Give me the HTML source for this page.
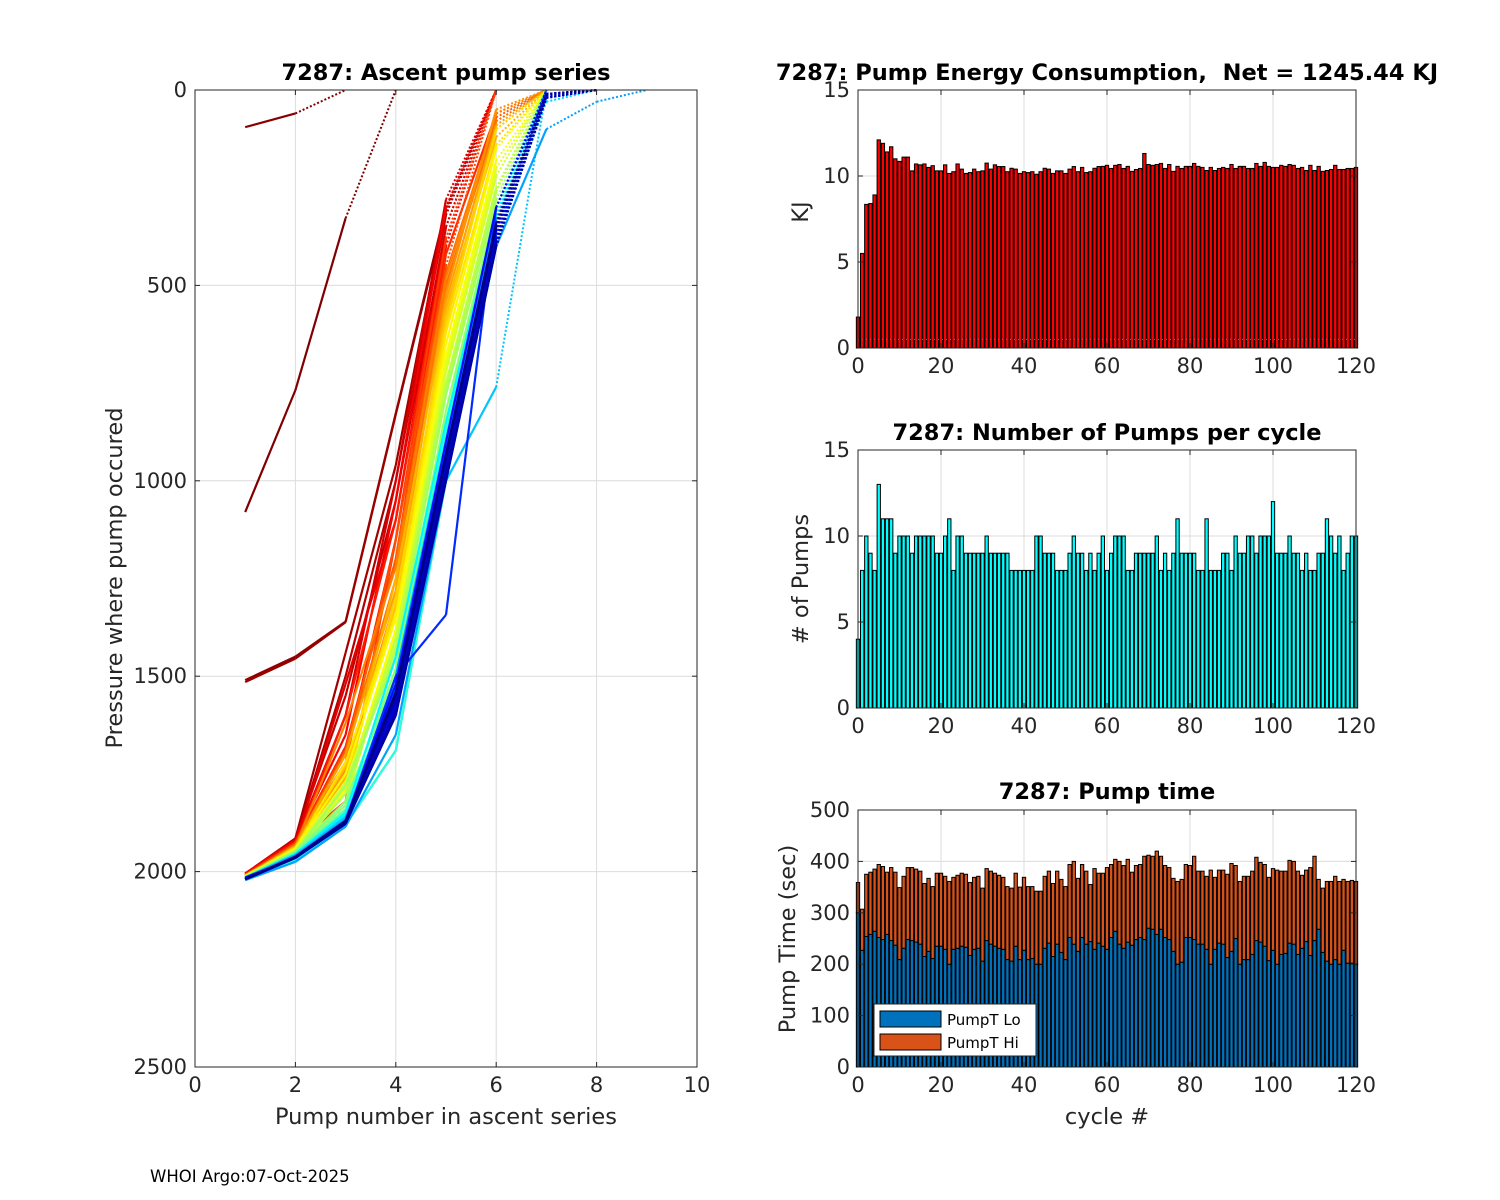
<!DOCTYPE html>
<html><head><meta charset="utf-8"><style>
html,body{margin:0;padding:0;background:#fff;}
svg{display:block;font-family:"DejaVu Sans","Liberation Sans",sans-serif;}
</style></head><body>
<svg id="fig" width="1500" height="1200" viewBox="0 0 1500 1200" xmlns="http://www.w3.org/2000/svg">
<rect width="1500" height="1200" fill="#fff"/>
<text x="150" y="1182" font-size="16.5" fill="#000">WHOI Argo:07-Oct-2025</text>
</svg>
<script>
// ---------- DATA ----------
const energyKJ = [1.8,5.5,8.35,8.4,8.9,12.1,11.9,11.4,11.7,11.0,10.85,11.1,11.1,10.3,10.7,10.65,10.7,10.5,10.6,10.3,10.3,10.65,10.15,10.25,10.7,10.4,10.15,10.2,10.4,10.25,10.3,10.75,10.4,10.65,10.55,10.55,10.25,10.45,10.4,10.15,10.25,10.2,10.25,10.1,10.25,10.45,10.4,10.15,10.3,10.3,10.15,10.4,10.55,10.25,10.5,10.2,10.25,10.45,10.55,10.56,10.62,10.44,10.62,10.67,10.44,10.56,10.27,10.38,10.44,11.31,10.67,10.62,10.67,10.73,10.44,10.67,10.27,10.56,10.44,10.56,10.56,10.73,10.56,10.5,10.32,10.5,10.32,10.44,10.5,10.44,10.67,10.44,10.56,10.56,10.44,10.44,10.73,10.56,10.79,10.56,10.5,10.5,10.62,10.56,10.67,10.62,10.44,10.5,10.32,10.62,10.32,10.56,10.27,10.32,10.38,10.62,10.38,10.38,10.44,10.44,10.5];
const pumpCount = [4,8,10,9,8,13,11,11,11,9,10,10,10,9,10,10,10,10,10,9,9,10,11,8,10,10,9,9,9,9,9,10,9,9,9,9,9,8,8,8,8,8,8,10,10,9,9,9,8,8,8,9,10,9,9,8,9,8,9,10,8,9,10,10,10,8,8,9,9,9,9,9,10,8,9,8,9,11,9,9,9,9,8,8,11,8,8,8,9,9,8,10,9,9,10,10,9,10,10,10,12,9,9,9,10,9,9,8,9,8,8,9,9,11,10,9,10,8,9,10,10];
const pumpTotal = [359,307,375,379,385,394,390,379,388,379,349,371,388,388,385,381,357,367,351,377,377,371,361,369,373,377,375,359,369,371,348,386,381,377,373,369,351,348,377,350,369,351,351,342,342,371,381,357,381,365,351,394,400,367,394,381,355,386,377,377,388,394,404,400,392,404,379,392,394,410,412,410,420,410,392,388,367,361,365,394,392,410,381,381,371,383,369,383,383,375,396,392,361,371,371,381,408,398,394,369,386,383,381,381,402,400,381,373,383,388,410,365,348,361,361,371,361,365,361,363,361];
const pumpLo = [300,227,254,258,264,252,248,258,246,237,209,231,248,246,243,239,215,225,211,235,235,229,200,229,231,235,233,217,229,231,206,246,239,235,231,229,209,206,235,209,227,209,211,200,200,231,241,215,239,223,209,252,239,225,252,239,244,229,241,235,229,252,264,239,231,243,237,248,252,248,270,268,258,268,252,248,225,200,204,252,252,248,239,239,229,200,229,241,239,213,225,250,200,209,209,219,246,243,235,207,227,200,219,221,241,239,219,231,244,217,246,268,223,206,200,209,200,227,202,202,200];
const energyTicks = [0,5,10,15];
const pumpTicks = [0,5,10,15];
const timeTicks = [0,100,200,300,400,500];
const cycleTicks = [0,20,40,60,80,100,120];
const ascXTicks = [0,2,4,6,8,10];
const ascYTicks = [0,500,1000,1500,2000,2500];
// ascent profiles: cycle index (for colour) and pressure at pump 1..n
const profCycle = [0,1,2,3,4,6,8,10,12,14,16,18,20,22,24,26,28,30,32,34,36,38,40,42,44,46,48,50,52,54,56,58,60,62,82,66,68,70,72,74,76,78,80,82,84,86,88,90,92,94,96,98,100,102,104,106,108,110,112,114,116,118,120];
const profP = [
[1080,768,328,0],
[95,60,0],
[1510,1450,1360,827,302,0],
[1515,1455,1362,830,310,0],
[2005,1915,1440,960,300,0],
[2010,1920,1500,1000,320,0],
[2008,1915,1550,1050,350,0],
[2005,1920,1600,1000,280,0],
[2010,1925,1520,1100,350,0],
[2005,1920,1650,1050,300,0],
[2010,1925,1700,1150,400,0],
[2010,1930,1600,1100,380,0],
[2008,1925,1680,1200,420,60,0],
[2010,1928,1820,1150,380,0],
[2010,1930,1720,1150,450,0],
[2012,1932,1690,1200,470,70,0],
[2012,1930,1700,1250,500,80,0],
[2010,1935,1620,1220,480,60,0],
[2010,1935,1740,1300,520,50,0],
[2012,1935,1700,1280,540,90,0],
[2012,1935,1760,1250,560,120,0],
[2012,1938,1730,1320,580,100,0],
[2010,1940,1780,1300,600,100,0],
[2012,1940,1720,1340,620,140,0],
[2012,1940,1750,1350,650,150,0],
[2014,1942,1790,1380,680,180,0],
[2015,1945,1800,1400,700,200,0],
[2014,1945,1770,1420,720,220,0],
[2012,1945,1820,1400,750,250,0],
[2015,1948,1800,1430,760,260,0],
[2015,1950,1780,1450,780,280,0],
[2015,1950,1830,1480,820,300,0],
[2015,1950,1820,1500,850,300,0],
[2016,1952,1840,1520,860,310,0],
[2020,1970,1880,1690,1000,760,0],
[2016,1954,1845,1540,880,330,0],
[2015,1955,1850,1550,900,350,0],
[2020,1970,1880,1690,1000,400,20,0],
[2018,1958,1860,1500,880,330,20,0],
[2016,1956,1855,1520,890,340,0],
[2015,1955,1850,1450,850,320,0],
[2018,1958,1858,1580,930,360,20,0],
[2018,1960,1860,1600,950,380,30,0],
[2016,1958,1862,1570,940,360,0],
[2015,1958,1865,1550,920,350,0],
[2022,1975,1885,1650,1000,400,100,30,0],
[2018,1960,1870,1500,900,330,20,0],
[2018,1960,1868,1530,920,340,10,0],
[2018,1962,1870,1550,950,350,10,0],
[2019,1963,1872,1570,970,370,20,0],
[2020,1965,1875,1600,1000,400,20,0],
[2019,1964,1873,1580,980,380,10,0],
[2015,1965,1870,1500,1343,300,0],
[2019,1963,1871,1560,960,360,15,0],
[2018,1962,1870,1520,900,300,10,0],
[2019,1963,1872,1590,990,390,20,0],
[2020,1965,1875,1580,980,380,0],
[2019,1964,1874,1570,960,360,10,0],
[2018,1962,1872,1560,950,350,15,0],
[2019,1964,1876,1590,980,390,20,0],
[2020,1965,1878,1600,1000,400,20,0],
[2019,1963,1872,1550,940,350,10,0],
[2018,1962,1870,1540,930,340,10,0]
];

// ---------- HELPERS ----------
const svg = document.getElementById('fig');
const NS = 'http://www.w3.org/2000/svg';
function mk(tag, attrs, parent){ const e=document.createElementNS(NS,tag); for(const k in attrs) e.setAttribute(k,attrs[k]); (parent||svg).appendChild(e); return e; }
const AX = '#262626', GRID = '#dcdcdc';
const TICK_FS = 21, LABEL_FS = 22.5, TITLE_FS = 22.5;

function jet(t){
  const r=Math.max(0,Math.min(1,Math.min(4*t-1.5,-4*t+4.5)));
  const g=Math.max(0,Math.min(1,Math.min(4*t-0.5,-4*t+3.5)));
  const b=Math.max(0,Math.min(1,Math.min(4*t+0.5,-4*t+2.5)));
  return 'rgb('+Math.round(r*255)+','+Math.round(g*255)+','+Math.round(b*255)+')';
}

function axesFrame(name, L, T, R, B, xt, yt, sx, sy, g){
  for(const v of xt){ const x=sx(v);
    const gl=mk('line',{x1:x,y1:T,x2:x,y2:B,stroke:GRID,'stroke-width':1},g);
     
  }
  for(const v of yt){ const y=sy(v);
    const gl=mk('line',{x1:L,y1:y,x2:R,y2:y,stroke:GRID,'stroke-width':1},g);
     
  }
}
function axesBox(name, L, T, R, B, xt, yt, sx, sy, g){
  const box=mk('rect',{x:L,y:T,width:R-L,height:B-T,fill:'none',stroke:AX,'stroke-width':1},g);
   
  for(const v of xt){ const x=sx(v);
    mk('line',{x1:x,y1:B,x2:x,y2:B-5,stroke:AX},g); mk('line',{x1:x,y1:T,x2:x,y2:T+5,stroke:AX},g);
    const t=mk('text',{x:x,y:B+25,'font-size':TICK_FS,'text-anchor':'middle',fill:AX},g); t.textContent=v;
     
  }
  for(const v of yt){ const y=sy(v);
    mk('line',{x1:L,y1:y,x2:L+5,y2:y,stroke:AX},g); mk('line',{x1:R,y1:y,x2:R-5,y2:y,stroke:AX},g);
    const t=mk('text',{x:L-8,y:y+7,'font-size':TICK_FS,'text-anchor':'end',fill:AX},g); t.textContent=v;
     
  }
}
function label(txt, x, y, opts, name, g){
  const t=mk('text',Object.assign({x:x,y:y,'font-size':LABEL_FS,'text-anchor':'middle',fill:AX},opts||{}),g);
  t.textContent=txt;   return t;
}

// ---------- ASCENT PANEL ----------
(function(){
  const g=mk('g',{});  
  const L=195,R=697,T=90,B=1067;
  const sx=v=>L+(v-0)/(10-0)*(R-L), sy=v=>T+(v-0)/(2500-0)*(B-T);
  axesFrame('ascent',L,T,R,B,ascXTicks,ascYTicks,sx,sy,g);
  const lg=mk('g',{},g);  
  profP.forEach((p,i)=>{
    const col=jet(1-profCycle[i]/120);
    for(let k=0;k<p.length-1;k++){
      const dotted = p[k+1] < 40;
      const ln=mk('line',{x1:sx(k+1),y1:sy(p[k]),x2:sx(k+2),y2:sy(p[k+1]),stroke:col,'stroke-width':dotted?2:2.2,'stroke-dasharray':dotted?'2 2':'none'},lg);
      
      
    }
  });
  axesBox('ascent',L,T,R,B,ascXTicks,ascYTicks,sx,sy,g);
  label('7287: Ascent pump series',446,80,{'font-weight':'bold','font-size':TITLE_FS,fill:'#000'},'ascent-title',g);
  label('Pump number in ascent series',446,1124,{},'ascent-x-axis-title',g);
  label('Pressure where pump occured',122,578,{transform:'rotate(-90 122 578)'},'ascent-y-axis-title',g);
})();

// ---------- BAR PANELS ----------
const cL=858, cR=1356;
const sxc=v=>cL+(v-0)/(120-0)*(cR-cL);
const bw=0.8*(cR-cL)/120;

(function(){
  const g=mk('g',{});  
  const T=90,B=348; const sy=v=>B-(v/15)*(B-T);
  axesFrame('energy',cL,T,cR,B,cycleTicks,energyTicks,sxc,sy,g);
  energyKJ.forEach((v,i)=>{
    const r=mk('rect',{x:sxc(i)-bw/2,y:sy(v),width:bw,height:sy(0)-sy(v),fill:'#ff0000',stroke:'#000','stroke-width':1},g);
     
  });
  const dl=mk('line',{x1:cL,y1:sy(0.5),x2:cR,y2:sy(0.5),stroke:'#ff4040','stroke-width':1,'stroke-dasharray':'1 3'},g);
   
  axesBox('energy',cL,T,cR,B,cycleTicks,energyTicks,sxc,sy,g);
  label('7287: Pump Energy Consumption,  Net = 1245.44 KJ',1107,80,{'font-weight':'bold','font-size':TITLE_FS,fill:'#000',style:'white-space:pre'},'energy-title',g);
  label('KJ',808,212,{transform:'rotate(-90 808 212)'},'energy-y-axis-title',g);
})();

(function(){
  const g=mk('g',{});  
  const T=450,B=708; const sy=v=>B-(v/15)*(B-T);
  axesFrame('pumps',cL,T,cR,B,cycleTicks,pumpTicks,sxc,sy,g);
  pumpCount.forEach((v,i)=>{
    const r=mk('rect',{x:sxc(i)-bw/2,y:sy(v),width:bw,height:sy(0)-sy(v),fill:'#00ffff',stroke:'#000','stroke-width':1},g);
     
  });
  axesBox('pumps',cL,T,cR,B,cycleTicks,pumpTicks,sxc,sy,g);
  label('7287: Number of Pumps per cycle',1107,440,{'font-weight':'bold','font-size':TITLE_FS,fill:'#000'},'pump-count-title',g);
  label('# of Pumps',808,579,{transform:'rotate(-90 808 579)'},'pump-count-y-axis-title',g);
})();

(function(){
  const g=mk('g',{});  
  const T=810,B=1067; const sy=v=>B-(v/500)*(B-T);
  axesFrame('time',cL,T,cR,B,cycleTicks,timeTicks,sxc,sy,g);
  pumpLo.forEach((lo,i)=>{
    const tot=pumpTotal[i];
    const r1=mk('rect',{x:sxc(i)-bw/2,y:sy(lo),width:bw,height:sy(0)-sy(lo),fill:'#0072bd',stroke:'#000','stroke-width':1},g);
     
    const r2=mk('rect',{x:sxc(i)-bw/2,y:sy(tot),width:bw,height:sy(lo)-sy(tot),fill:'#d95319',stroke:'#000','stroke-width':1},g);
     
  });
  axesBox('time',cL,T,cR,B,cycleTicks,timeTicks,sxc,sy,g);
  label('7287: Pump time',1107,799,{'font-weight':'bold','font-size':TITLE_FS,fill:'#000'},'pump-time-title',g);
  label('Pump Time (sec)',795,939,{transform:'rotate(-90 795 939)'},'pump-time-y-axis-title',g);
  label('cycle #',1107,1124,{},'cycle-x-axis-title',g);
  const lg=mk('g',{},g);  
  mk('rect',{x:874,y:1004,width:162,height:52,fill:'#fff',stroke:AX,'stroke-width':1},lg);
  const e1=mk('rect',{x:880,y:1011,width:61,height:16,fill:'#0072bd',stroke:'#000'},lg);
   
  const e2=mk('rect',{x:880,y:1034,width:61,height:16,fill:'#d95319',stroke:'#000'},lg);
   
  label('PumpT Lo',947,1025,{'font-size':15,'text-anchor':'start',fill:'#000'},'legend-entry-lo',lg);
  label('PumpT Hi',947,1048,{'font-size':15,'text-anchor':'start',fill:'#000'},'legend-entry-hi',lg);
})();
</script>
</body></html>
